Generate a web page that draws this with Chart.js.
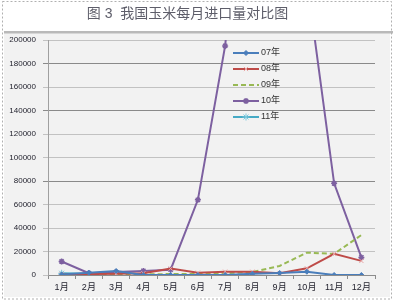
<!DOCTYPE html>
<html>
<head>
<meta charset="utf-8">
<script src="https://cdn.jsdelivr.net/npm/chart.js@4"></script>
<style>
  html, body { margin: 0; padding: 0; background: #fff; }
  #wrap { width: 394px; height: 303px; }
</style>
</head>
<body>
<div id="wrap"><canvas id="myChart" width="394" height="303"></canvas></div>
<script>
// data
const months = ['1月', '2月', '3月', '4月', '5月', '6月', '7月', '8月', '9月', '10月', '11月', '12月'];
const seriesNames = ['07年', '08年', '09年', '10年', '11年'];
const y07 = [500, 2000, 3400, 0, 0, 0, 0, 1000, 1700, 2800, 0, 0];
const y08 = [500, 800, 1000, 1500, 5500, 2000, 2800, 2800, 1500, 5700, 18000, 12000];
const y09 = [0, 300, 500, 500, 800, 1000, 1500, 2500, 7700, 19000, 18000, 34000];
const y10 = [11500, 1500, 2500, 3500, 4500, 64000, 195000, 430000, 320000, 251000, 78000, 15000];
const y11 = [1500, 1000, null, null, null, null, null, null, null, null, null, null];
const yMax = 200000;
const yStep = 20000;
const darkGrid = [180000, 140000, 80000];

const ctx = document.getElementById('myChart').getContext('2d');

// grey frame, bar and dotted border behind the chart
const frame = {
  id: 'frame',
  beforeDraw(chart) {
    const c = chart.ctx;
    c.save();
    c.fillStyle = '#ffffff';
    c.fillRect(0, 0, chart.width, chart.height);
    c.fillStyle = '#f2f2f2';
    c.fillRect(4, 33, 386, 264);
    c.fillStyle = '#b9b9b9';
    c.fillRect(4, 31, 389, 2.5);
    c.strokeStyle = '#b0b0b0';
    c.lineWidth = 1;
    c.setLineDash([2, 2]);
    c.strokeRect(2.5, 1.5, 389, 297.5);
    c.restore();
  }
};

// legend drawn inside the plot, top right
const insideLegend = {
  id: 'insideLegend',
  afterDatasetsDraw(chart) {
    const c = chart.ctx;
    const x0 = 233, x1 = 259;
    let y = 53;
    chart.data.datasets.forEach(ds => {
      c.save();
      c.strokeStyle = ds.borderColor;
      c.lineWidth = ds.borderWidth;
      c.setLineDash(ds.borderDash || []);
      c.beginPath();
      c.moveTo(x0, y);
      c.lineTo(x1, y);
      c.stroke();
      c.setLineDash([]);
      if (ds.pointRadius > 0 && Chart.helpers && Chart.helpers.drawPoint) {
        c.fillStyle = ds.pointBackgroundColor;
        c.strokeStyle = ds.pointBorderColor;
        c.lineWidth = ds.pointBorderWidth;
        Chart.helpers.drawPoint(c, {
          pointStyle: ds.pointStyle,
          radius: ds.pointRadius,
          rotation: 0,
          borderWidth: ds.pointBorderWidth
        }, (x0 + x1) / 2, y);
      }
      c.fillStyle = '#333';
      c.font = '9px "Liberation Sans", "Noto Sans CJK SC"';
      c.textBaseline = 'middle';
      c.fillText(ds.label, x1 + 2, y);
      c.restore();
      y += 16;
    });
  }
};

const myChart = new Chart(ctx, {
  type: 'line',
  data: {
    labels: months,
    datasets: [{
      label: seriesNames[0],
      data: y07,
      borderColor: '#4a7ebb',
      borderWidth: 2,
      pointStyle: 'rectRot',
      pointRadius: 2.5,
      pointBackgroundColor: '#4a7ebb',
      pointBorderColor: '#4a7ebb',
      pointBorderWidth: 1,
      tension: 0
    }, {
      label: seriesNames[1],
      data: y08,
      borderColor: '#be4b48',
      borderWidth: 2,
      pointStyle: 'crossRot',
      pointRadius: 3,
      pointBackgroundColor: '#eaa8a8',
      pointBorderColor: '#eaa8a8',
      pointBorderWidth: 1,
      tension: 0
    }, {
      label: seriesNames[2],
      data: y09,
      borderColor: '#98b954',
      borderWidth: 2,
      borderDash: [5, 3],
      pointRadius: 0,
      tension: 0
    }, {
      label: seriesNames[3],
      data: y10,
      borderColor: '#7d60a0',
      borderWidth: 2,
      pointStyle: 'star',
      pointRadius: 3,
      pointBackgroundColor: '#7d60a0',
      pointBorderColor: '#7d60a0',
      pointBorderWidth: 1.5,
      tension: 0
    }, {
      label: seriesNames[4],
      data: y11,
      borderColor: '#46aac5',
      borderWidth: 2,
      pointStyle: 'star',
      pointRadius: 3.5,
      pointBackgroundColor: '#7cc8dc',
      pointBorderColor: '#7cc8dc',
      pointBorderWidth: 1,
      tension: 0
    }]
  },
  options: {
    responsive: false,
    animation: false,
    layout: { padding: { left: 0, right: 19, top: 0, bottom: 10 } },
    plugins: {
      legend: { display: false },
      tooltip: { enabled: false },
      title: {
        display: true,
        text: '图 3  我国玉米每月进口量对比图',
        color: '#5e5e6a',
        font: { family: '"Liberation Sans", "Noto Sans CJK SC"', size: 14, weight: 'normal' },
        padding: { top: 6, bottom: 17.2 }
      }
    },
    scales: {
      x: {
        offset: true,
        grid: {
          offset: true,
          drawOnChartArea: false,
          tickLength: 4,
          color: '#8c8c8c'
        },
        border: { display: true, color: '#8c8c8c' },
        ticks: {
          color: '#1e1e2a',
          padding: 3,
          maxRotation: 0,
          autoSkip: false,
          font: { family: '"Liberation Sans", "Noto Sans CJK SC"', size: 9 }
        },
        afterFit: scale => { scale.height = 18; }
      },
      y: {
        min: 0,
        max: yMax,
        grid: {
          tickLength: 5,
          color: c => darkGrid.includes(c.tick && c.tick.value) ? '#8a8a8a' : '#c2c2c2'
        },
        border: { display: true, color: '#a0a0a0' },
        ticks: {
          stepSize: yStep,
          color: '#1e1e2a',
          padding: 7,
          font: { family: '"Liberation Sans"', size: 8 },
          callback: v => String(v)
        },
        afterFit: scale => { scale.width = 48; }
      }
    }
  },
  plugins: [frame, insideLegend]
});
</script>
</body>
</html>
